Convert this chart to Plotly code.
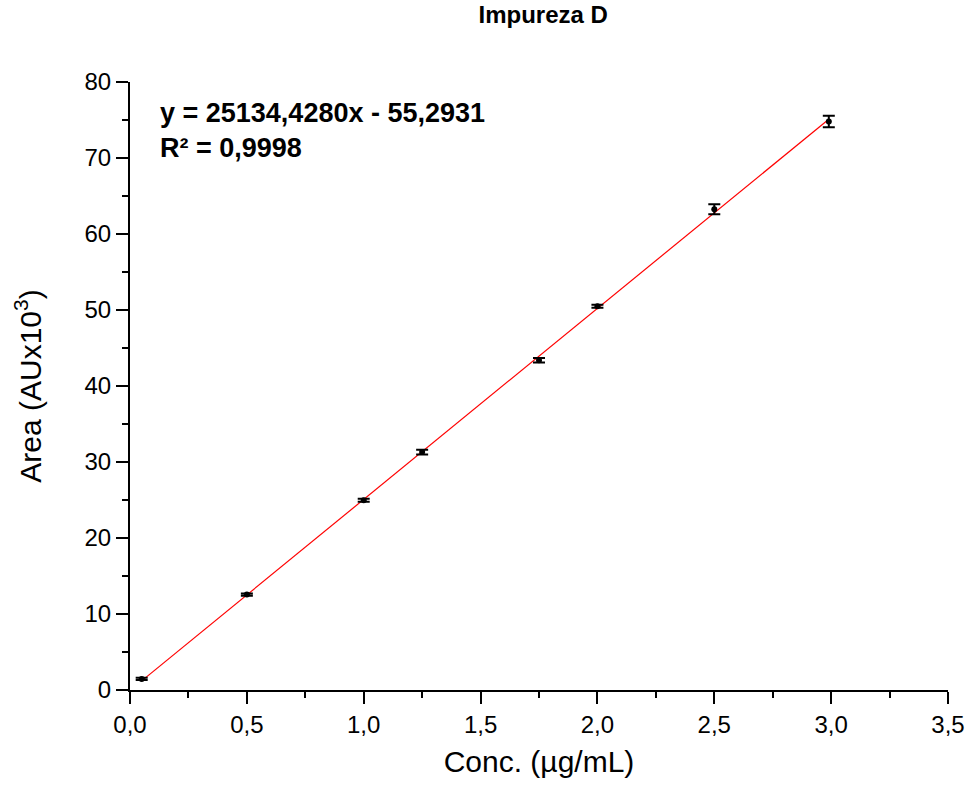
import plotly.graph_objects as go
import numpy as np

conc = [0.05, 0.5, 1.0, 1.25, 1.75, 2.0, 2.5, 2.99]
area = [1.45, 12.55, 24.97, 31.3, 43.4, 50.5, 63.25, 74.8]
err = [0.15, 0.15, 0.2, 0.3, 0.3, 0.2, 0.65, 0.75]

slope = 25134.4280 / 1000.0
intercept = -55.2931 / 1000.0
eq_text = "y = 25134,4280x - 55,2931<br>R² = 0,9998"

x_fit = np.array([min(conc), max(conc)])
y_fit = slope * x_fit + intercept

FONT = "Arial, Liberation Sans"

fig = go.Figure()
fig.add_trace(go.Scatter(
    x=x_fit.tolist(), y=y_fit.tolist(), mode="lines",
    line=dict(color="#ff0000", width=1.2), showlegend=False,
))
fig.add_trace(go.Scatter(
    x=conc, y=area, mode="markers",
    marker=dict(color="black", size=6),
    error_y=dict(type="data", array=err, visible=True, color="black", thickness=2, width=6),
    showlegend=False,
))

axis_common = dict(
    showline=True, linecolor="black", linewidth=2,
    ticks="outside", ticklen=12, tickwidth=2, tickcolor="black",
    showgrid=False, zeroline=False,
    tickfont=dict(family=FONT, size=24, color="black"),
)

fig.update_layout(
    width=977, height=787,
    paper_bgcolor="white", plot_bgcolor="white",
    separators=",.",
    margin=dict(l=130, r=22, t=82, b=97),
    title=dict(text="<b>Impureza D</b>", x=0.556, xanchor="center", y=0.981, yanchor="middle",
               font=dict(family=FONT, size=24, color="black")),
    xaxis=dict(range=[0, 3.5], dtick=0.5, tickformat=".1f",
               minor=dict(ticks="outside", ticklen=6, tickwidth=2, tickcolor="black", dtick=0.25),
               title=dict(text="Conc. (µg/mL)", font=dict(family=FONT, size=30, color="black"), standoff=14),
               **axis_common),
    yaxis=dict(range=[0, 80], dtick=10,
               minor=dict(ticks="outside", ticklen=6, tickwidth=2, tickcolor="black", dtick=5),
               title=dict(text="Area (AUx10<sup>3</sup>)", font=dict(family=FONT, size=30, color="black"), standoff=34),
               **axis_common),
    annotations=[dict(
        text="<b>" + eq_text + "</b>", xref="paper", yref="paper",
        x=0.034, y=0.92, xanchor="left", yanchor="middle", align="left", showarrow=False,
        font=dict(family=FONT, size=27, color="black"),
    )],
)

fig.write_html("out.html", config={"displayModeBar": False},
               post_script="document.body.style.margin='0';")
